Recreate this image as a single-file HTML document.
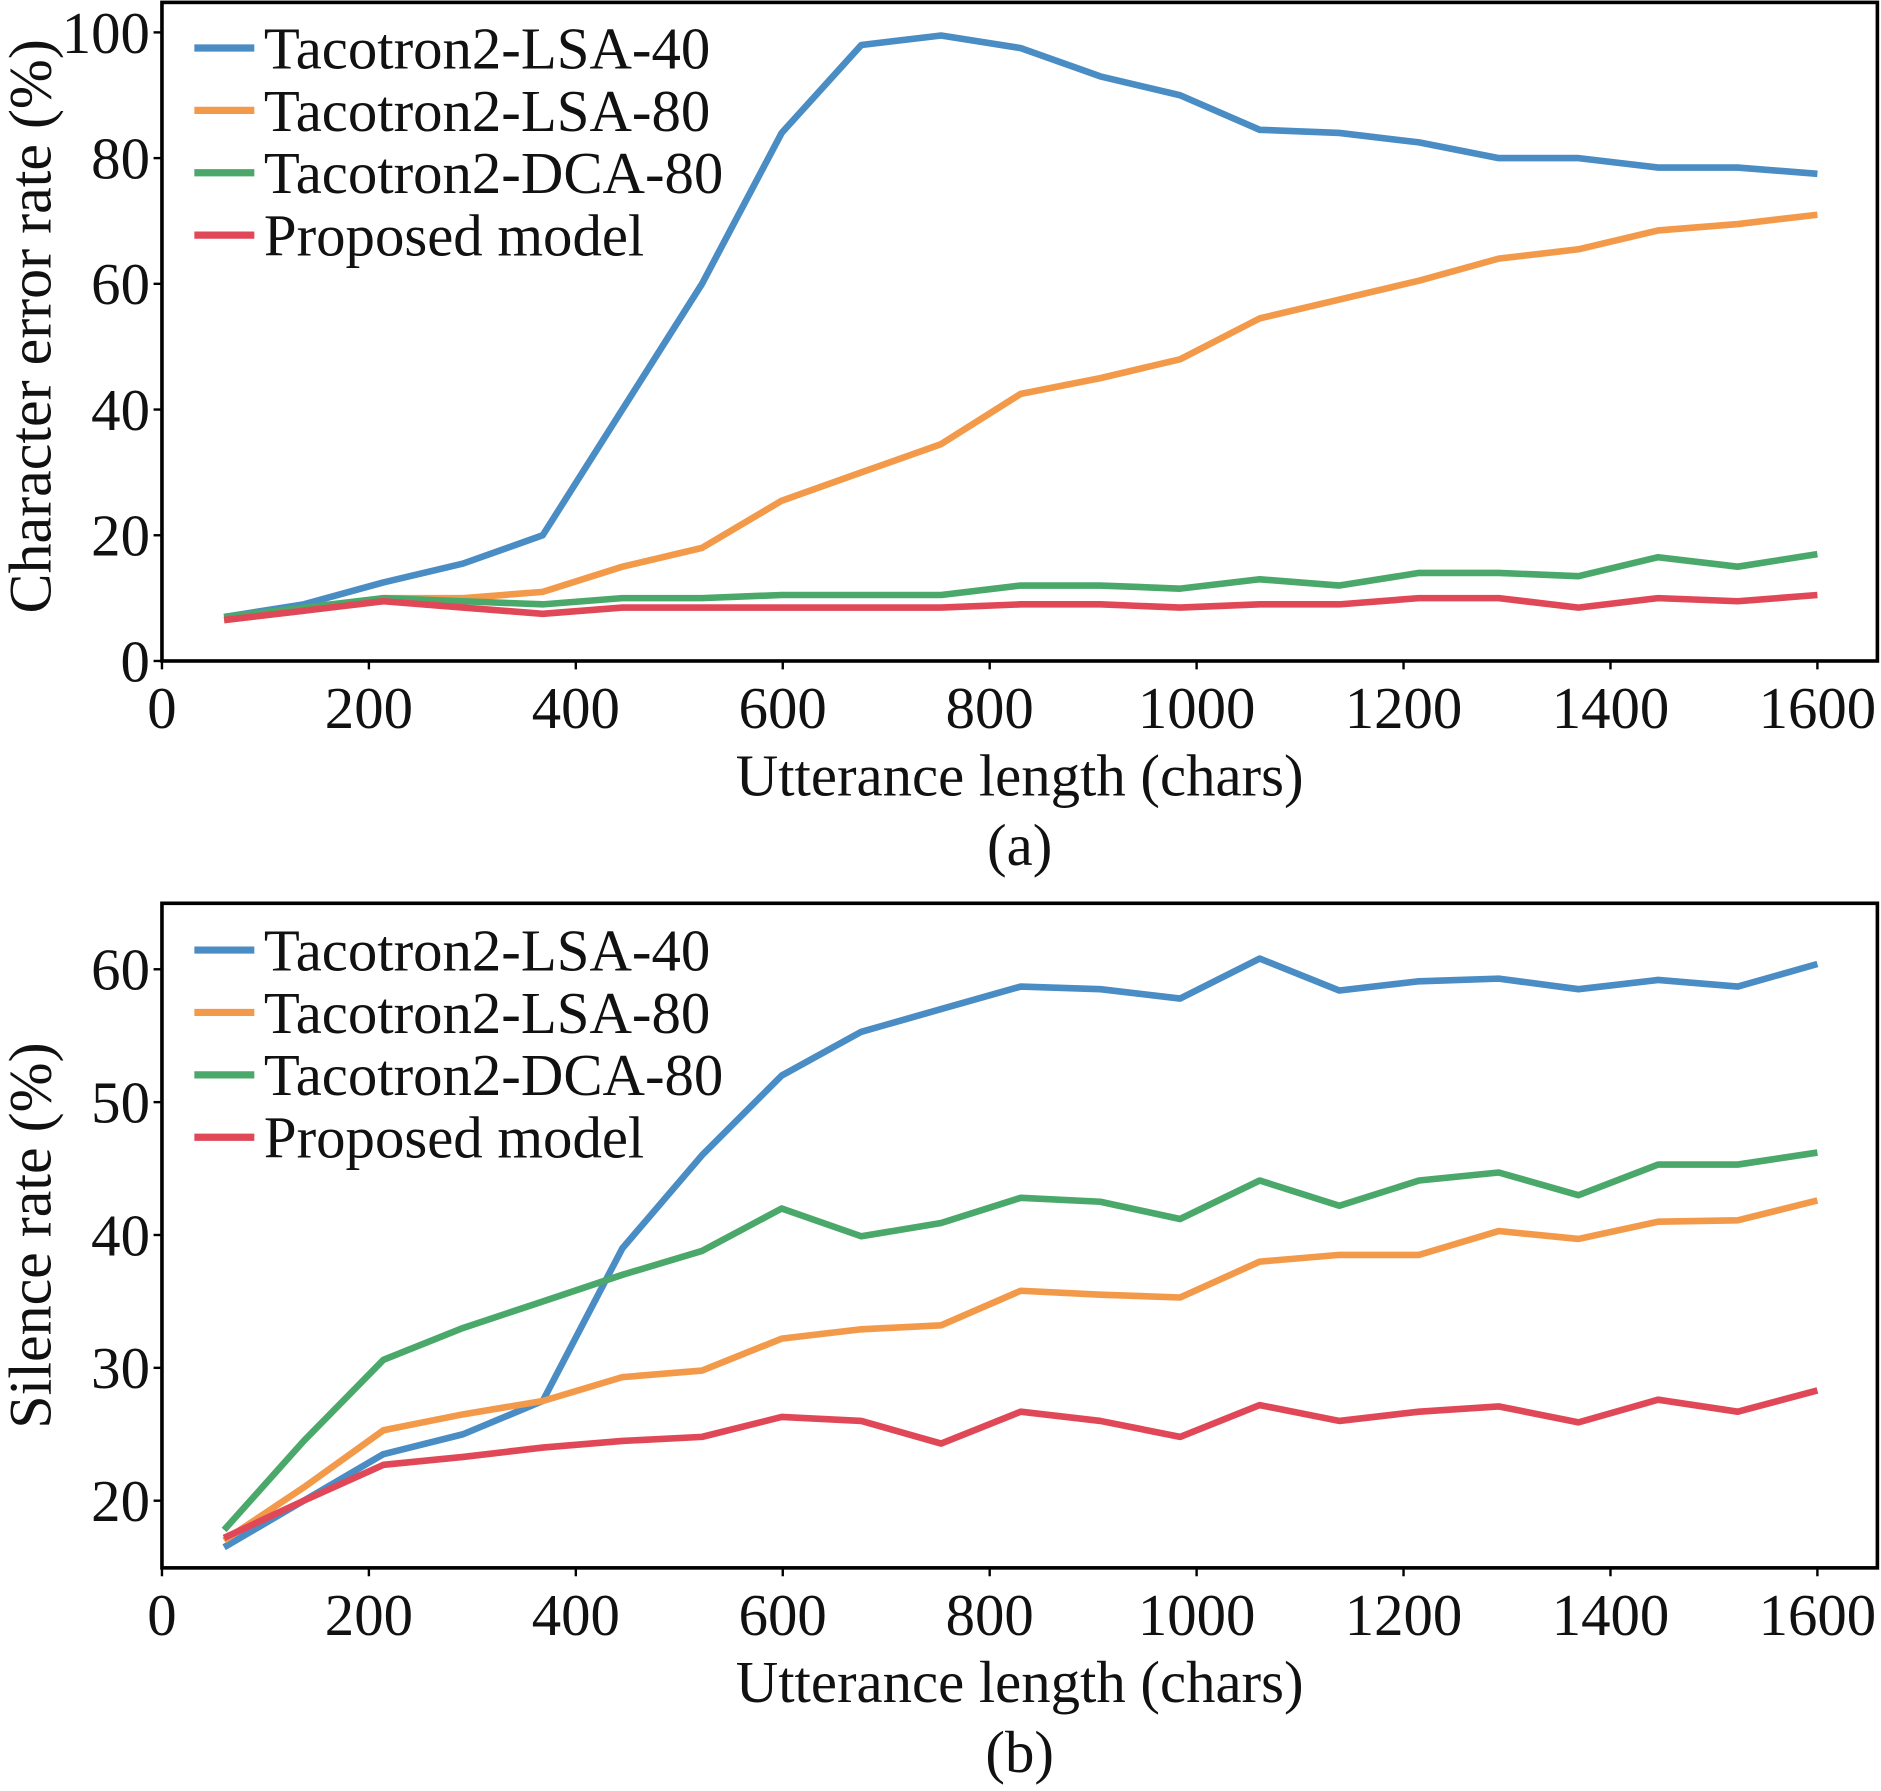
<!DOCTYPE html>
<html><head><meta charset="utf-8"><style>
html,body{margin:0;padding:0;background:#fff}
svg{display:block}
text{font-family:"Liberation Serif",serif;fill:#111}
</style></head><body>
<svg id="chart" width="1881" height="1791" viewBox="0 0 1568 1493" xmlns="http://www.w3.org/2000/svg"></svg>
<script>
const xVals=[60,137,214,291,368,445,522,599,676,753,830,907,984,1061,1138,1215,1292,1369,1446,1523,1600];
const seriesNames=["Tacotron2-LSA-40","Tacotron2-LSA-80","Tacotron2-DCA-80","Proposed model"];
const colors=["#4a8cc4","#f39a4a","#4aa86a","#e04858"];
const cerLSA40=[7,9,12.5,15.5,20,40,60,84,98,99.5,97.5,93,90,84.5,84,82.5,80,80,78.5,78.5,77.5];
const cerLSA80=[6.5,8,10,10,11,15,18,25.5,30,34.5,42.5,45,48,54.5,57.5,60.5,64,65.5,68.5,69.5,71];
const cerDCA80=[7,8.5,10,9.5,9,10,10,10.5,10.5,10.5,12,12,11.5,13,12,14,14,13.5,16.5,15,17];
const cerProposed=[6.5,8,9.5,8.5,7.5,8.5,8.5,8.5,8.5,8.5,9,9,8.5,9,9,10,10,8.5,10,9.5,10.5];
const silLSA40=[16.5,20,23.5,25,27.5,39,46,52,55.3,57,58.7,58.5,57.8,60.8,58.4,59.1,59.3,58.5,59.2,58.7,60.4];
const silLSA80=[17,21,25.3,26.5,27.5,29.3,29.8,32.2,32.9,33.2,35.8,35.5,35.3,38,38.5,38.5,40.3,39.7,41,41.1,42.6];
const silDCA80=[17.8,24.5,30.6,33,35,37,38.8,42,39.9,40.9,42.8,42.5,41.2,44.1,42.2,44.1,44.7,43,45.3,45.3,46.2];
const silProposed=[17.2,20,22.7,23.3,24,24.5,24.8,26.3,26,24.3,26.7,26,24.8,27.2,26,26.7,27.1,25.9,27.6,26.7,28.3];
const xTicks=[0,200,400,600,800,1000,1200,1400,1600];
const cerTicks=[0,20,40,60,80,100];
const silTicks=[20,30,40,50,60];

const NS="http://www.w3.org/2000/svg";
const svg=document.getElementById('chart');
function mk(tag,attrs,parent){const e=document.createElementNS(NS,tag);for(const k in attrs)e.setAttribute(k,attrs[k]);(parent||svg).appendChild(e);return e;}

function panel(cfg){
  const g=mk('g',{});
  
  
  const X=v=>135+(v/1600)*1380;
  const Y=v=>cfg.y0px-(v-cfg.v0)*cfg.k;
  cfg.series.forEach((arr,i)=>{
    const p=mk('polyline',{points:arr.map((v,j)=>X(xVals[j]).toFixed(1)+','+Y(v).toFixed(1)).join(' '),fill:'none',stroke:colors[i],'stroke-width':5.5,'stroke-linejoin':'round'},g);
    
    
  });
  const fr=mk('rect',{x:135,y:cfg.top,width:1430,height:cfg.bottom-cfg.top,fill:'none',stroke:'#000','stroke-width':3},g);
  
  
  xTicks.forEach(t=>{
    mk('line',{x1:X(t),x2:X(t),y1:cfg.bottom,y2:cfg.bottom+7,stroke:'#000','stroke-width':2},g);
    const tx=mk('text',{x:X(t),y:cfg.bottom+56,'font-size':49,'text-anchor':'middle'},g);
    tx.textContent=t;
    
    
  });
  cfg.yTicks.forEach(t=>{
    mk('line',{x1:128,x2:135,y1:Y(t),y2:Y(t),stroke:'#000','stroke-width':2},g);
    const tx=mk('text',{x:125,y:Y(t)+17,'font-size':49,'text-anchor':'end'},g);
    tx.textContent=t;
    
    
  });
  const xl=mk('text',{x:850,y:cfg.bottom+112,'font-size':49,'text-anchor':'middle'},g);
  xl.textContent='Utterance length (chars)';
  
  
  const cap=mk('text',{x:850,y:cfg.bottom+170,'font-size':49,'text-anchor':'middle'},g);
  cap.textContent=cfg.caption;
  
  
  const yl=mk('text',{x:0,y:0,'font-size':50,'text-anchor':'middle',transform:'translate(42,'+cfg.ylabelY+') rotate(-90)'},g);
  yl.textContent=cfg.ylabel;
  
  
  seriesNames.forEach((n,i)=>{
    const cy=cfg.legTop+i*52;
    const ln=mk('line',{x1:162,x2:212,y1:cy,y2:cy,stroke:colors[i],'stroke-width':6},g);
    
    
    const tx=mk('text',{x:220,y:cy+17,'font-size':49},g);
    tx.textContent=n;
    
    
  });
}
panel({name:'cer-panel',top:2,bottom:551,v0:0,y0px:551,k:5.24,yTicks:cerTicks,series:[cerLSA40,cerLSA80,cerDCA80,cerProposed],ylabel:'Character error rate (%)',ylabelY:272,caption:'(a)',legTop:40});
panel({name:'silence-panel',top:753,bottom:1307,v0:20,y0px:1251,k:11.075,yTicks:silTicks,series:[silLSA40,silLSA80,silDCA80,silProposed],ylabel:'Silence rate (%)',ylabelY:1030,caption:'(b)',legTop:792});
</script>
</body></html>
